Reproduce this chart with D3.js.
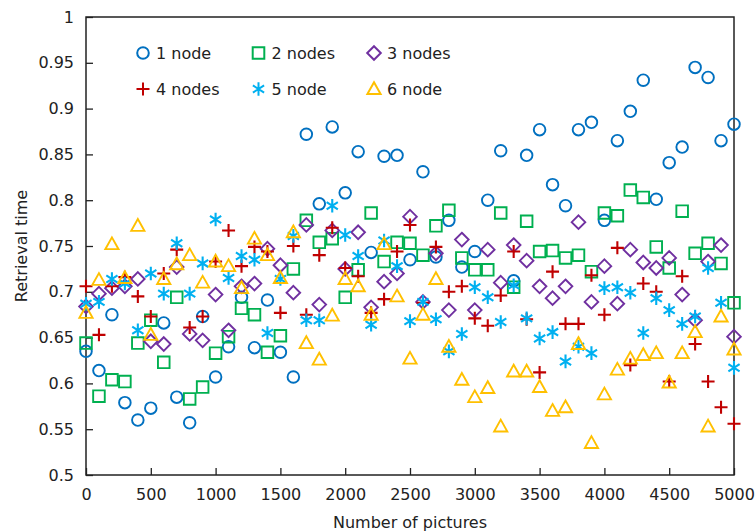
<!DOCTYPE html>
<html>
<head>
<meta charset="utf-8">
<script src="https://cdn.jsdelivr.net/npm/d3@7"></script>
<style>
  body { margin: 0; background: #fff; }
  text { font-family: "DejaVu Sans", Verdana, sans-serif; }
</style>
</head>
<body>
<script>
var pictures = [0,100,200,300,400,500,600,700,800,900,1000,1100,1200,1300,1400,1500,1600,1700,1800,1900,
    2000,2100,2200,2300,2400,2500,2600,2700,2800,2900,3000,3100,3200,3300,3400,3500,3600,3700,3800,3900,
    4000,4100,4200,4300,4400,4500,4600,4700,4800,4900,5000];

var node1 = [0.635,0.614,0.675,0.579,0.560,0.573,0.666,0.585,0.557,0.673,0.607,0.640,0.694,0.639,0.691,0.634,0.607,0.872,0.796,0.880,
    0.808,0.853,0.743,0.848,0.849,0.735,0.831,0.738,0.778,0.727,0.744,0.800,0.854,0.712,0.849,0.877,0.817,0.794,0.877,0.885,
    0.778,0.865,0.897,0.931,0.801,0.841,0.858,0.945,0.934,0.865,0.883];
var node2 = [0.644,0.586,0.604,0.602,0.644,0.669,0.623,0.694,0.583,0.596,0.633,0.651,0.682,0.675,0.634,0.652,0.725,0.778,0.754,0.758,
    0.694,0.724,0.786,0.733,0.754,0.753,0.740,0.772,0.789,0.737,0.724,0.724,0.786,0.705,0.777,0.744,0.745,0.737,0.740,0.722,
    0.786,0.783,0.811,0.803,0.749,0.726,0.788,0.742,0.753,0.731,0.688];
var node3 = [0.684,0.698,0.704,0.706,0.714,0.646,0.643,0.727,0.654,0.647,0.697,0.658,0.706,0.709,0.747,0.729,0.699,0.773,0.686,0.767,
    0.725,0.765,0.683,0.711,0.720,0.782,0.689,0.742,0.680,0.757,0.680,0.746,0.710,0.751,0.734,0.706,0.693,0.706,0.776,0.689,
    0.728,0.687,0.746,0.732,0.726,0.737,0.697,0.669,0.733,0.751,0.651];
var node4 = [0.706,0.653,0.706,0.716,0.695,0.673,0.720,0.746,0.661,0.673,0.733,0.767,0.728,0.749,0.744,0.677,0.750,0.675,0.740,0.770,
    0.726,0.717,0.677,0.692,0.744,0.773,0.688,0.749,0.700,0.706,0.671,0.663,0.696,0.744,0.670,0.612,0.722,0.665,0.665,0.718,
    0.675,0.748,0.620,0.709,0.700,0.602,0.717,0.643,0.602,0.574,0.556];
var node5 = [0.687,0.689,0.714,0.709,0.658,0.720,0.698,0.753,0.698,0.731,0.779,0.715,0.739,0.735,0.655,0.714,0.761,0.669,0.669,0.794,
    0.762,0.739,0.664,0.756,0.728,0.668,0.689,0.670,0.635,0.654,0.705,0.694,0.667,0.707,0.671,0.649,0.656,0.624,0.640,0.633,
    0.704,0.705,0.699,0.655,0.693,0.680,0.665,0.673,0.726,0.688,0.617];
var node6 = [0.677,0.713,0.752,0.715,0.772,0.653,0.714,0.730,0.740,0.710,0.733,0.728,0.704,0.758,0.740,0.715,0.765,0.644,0.626,0.674,
    0.714,0.706,0.675,0.752,0.695,0.627,0.675,0.714,0.640,0.604,0.585,0.595,0.553,0.613,0.613,0.596,0.570,0.574,0.643,0.535,
    0.588,0.615,0.627,0.631,0.633,0.601,0.633,0.656,0.553,0.673,0.637];

var seriesNames = ["1 node", "2 nodes", "3 nodes", "4 nodes", "5 node", "6 node"];
var xTicks = [0,500,1000,1500,2000,2500,3000,3500,4000,4500,5000];
var yTicks = [0.5,0.55,0.6,0.65,0.7,0.75,0.8,0.85,0.9,0.95,1];

var w = 755, h = 532;
// plot box edges (note: "top" is reserved by window)
var plotL = 86, plotR = 734, plotT = 17, plotB = 475;

var series = [
    {name: seriesNames[0], values: node1, color: "#0070C0", shape: "circle"},
    {name: seriesNames[1], values: node2, color: "#00B050", shape: "square"},
    {name: seriesNames[2], values: node3, color: "#7030A0", shape: "diamond"},
    {name: seriesNames[3], values: node4, color: "#C00000", shape: "plus"},
    {name: seriesNames[4], values: node5, color: "#00B0F0", shape: "star"},
    {name: seriesNames[5], values: node6, color: "#FFC000", shape: "triangle"}
];

// marker outlines, centred on 0,0
function markerPath(shape) {
    switch (shape) {
        case "circle": return "M5.8,0A5.8,5.8 0 1,1 -5.8,0A5.8,5.8 0 1,1 5.8,0Z";
        case "square": return "M-5.8,-5.8H5.8V5.8H-5.8Z";
        case "diamond": return "M0,-6.8L6.8,0L0,6.8L-6.8,0Z";
        case "plus": return "M-6.5,0H6.5M0,-6.5V6.5";
        case "star": return "M0,-6.8V6.8M-5.6,-3.6L5.6,3.6M-5.6,3.6L5.6,-3.6";
        case "triangle": return "M0,-6.8L6.6,5L-6.6,5Z";
    }
}

var svg = d3.select("body")
    .append("svg")
    .attr("width", w)
    .attr("height", h);

var x = d3.scaleLinear().domain([0, 5000]).range([plotL, plotR]);
var y = d3.scaleLinear().domain([0.5, 1]).range([plotB, plotT]);

// inward ticks on left and bottom
svg.append("g")
    .attr("transform", "translate(0," + plotB + ")")
    .call(d3.axisBottom(x).tickValues(xTicks).tickSizeInner(-7).tickSizeOuter(0).tickPadding(14).tickFormat(d3.format("d")));
svg.append("g")
    .attr("transform", "translate(" + plotL + ",0)")
    .call(d3.axisLeft(y).tickValues(yTicks).tickSizeInner(-7).tickSizeOuter(0).tickPadding(12).tickFormat(d3.format("~g")));

svg.selectAll(".domain").remove();
svg.selectAll(".tick line").attr("stroke", "#222").attr("stroke-width", 1.3);
svg.selectAll(".tick text")
    .attr("font-family", "DejaVu Sans, Verdana, sans-serif")
    .attr("font-size", "16px")
    .attr("fill", "#222");

svg.append("rect")
    .attr("x", plotL)
    .attr("y", plotT)
    .attr("width", plotR - plotL)
    .attr("height", plotB - plotT)
    .attr("fill", "none")
    .attr("stroke", "#222")
    .attr("stroke-width", 1.5);

series.forEach(function(s) {
    var lines = s.shape == "plus" || s.shape == "star";
    svg.append("g")
        .selectAll("path")
        .data(s.values)
        .enter()
        .append("path")
        .attr("d", markerPath(s.shape))
        .attr("transform", function(d, i) {
            return "translate(" + x(pictures[i]) + "," + y(d) + ")";
        })
        .attr("fill", "none")
        .attr("stroke", s.color)
        .attr("stroke-width", lines ? 2.1 : 1.9);
});

// legend, 3 columns x 2 rows
var legend = svg.append("g");
series.forEach(function(s, i) {
    var lx = 143 + (i % 3) * 115.5;
    var ly = 53 + Math.floor(i / 3) * 36;
    legend.append("path")
        .attr("d", markerPath(s.shape))
        .attr("transform", "translate(" + lx + "," + ly + ")")
        .attr("fill", "none")
        .attr("stroke", s.color)
        .attr("stroke-width", 2);
    legend.append("text")
        .attr("x", lx + 13)
        .attr("y", ly)
        .attr("dy", "0.36em")
        .attr("font-size", "16px")
        .attr("fill", "#222")
        .text(s.name);
});

svg.append("text")
    .attr("x", (plotL + plotR) / 2)
    .attr("y", 528)
    .attr("text-anchor", "middle")
    .attr("font-size", "16px")
    .attr("fill", "#222")
    .text("Number of pictures");

svg.append("text")
    .attr("transform", "translate(27," + (plotT + plotB) / 2 + ") rotate(-90)")
    .attr("text-anchor", "middle")
    .attr("font-size", "16px")
    .attr("fill", "#222")
    .text("Retrieval time");
</script>
</body>
</html>
